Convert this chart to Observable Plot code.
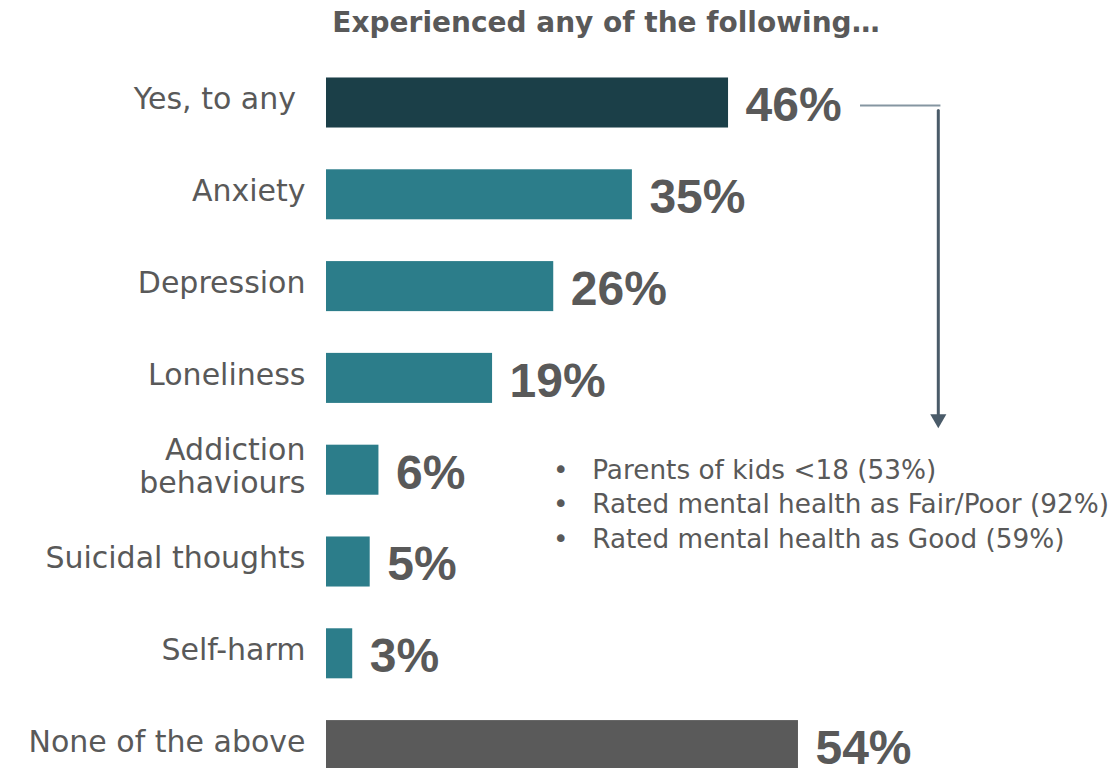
<!DOCTYPE html>
<html>
<head>
<meta charset="utf-8">
<script src="https://cdn.jsdelivr.net/npm/d3@7"></script>
<script src="https://cdn.jsdelivr.net/npm/@observablehq/plot@0.6"></script>
<style>
  html, body { margin: 0; padding: 0; background: #fff; }
  body { width: 1119px; height: 768px; overflow: hidden; position: relative; font-family: "DejaVu Sans", sans-serif; }
  #chart { position: absolute; left: 0; top: 0; }
  #title { position: absolute; left: 0; top: 9px; width: 1212px; text-align: center; font-weight: bold; font-size: 28px; line-height: 28px; color: #595959; white-space: nowrap; }
</style>
</head>
<body>
<div id="chart"></div>
<div id="title">Experienced any of the following…</div>
<script>
// ---- data ----
const categories = ["Yes, to any", "Anxiety", "Depression", "Loneliness", "Addiction\nbehaviours", "Suicidal thoughts", "Self-harm", "None of the above"];
const values = [46, 35, 26, 19, 6, 5, 3, 54];
const barColors = ["#1b3f48", "#2c7d8a", "#2c7d8a", "#2c7d8a", "#2c7d8a", "#2c7d8a", "#2c7d8a", "#5a5a5a"];
const noteLines = ["Parents of kids <18 (53%)", "Rated mental health as Fair/Poor (92%)", "Rated mental health as Good (59%)"];
// annotation: bracket from the "Yes, to any" bar down toward the notes
const connector = [{x1: 61.1, x2: 70.3, x: 70, from: "Yes, to any", to: "Addiction\nbehaviours"}];

const data = categories.map((c, i) => ({category: c, value: values[i], color: barColors[i]}));

const grey = "#595959";

const chart = Plot.plot({
  width: 1119,
  height: 768,
  marginLeft: 326,
  marginRight: 6.4,
  marginTop: 56.6,
  marginBottom: -23,
  style: {fontFamily: "DejaVu Sans", background: "white", color: grey},
  x: {domain: [0, 90], axis: null},
  y: {domain: categories, paddingInner: 0.455, paddingOuter: 0.2275, round: false, label: null},
  color: {type: "identity"},
  marks: [
    Plot.axisY({
      tickSize: 0,
      tickPadding: 21,
      fontSize: 30,
      lineHeight: 1.08,
      fill: grey,
      dy: -4,
      label: null,
      tickFormat: d => d === "Yes, to any" ? d + " " : d
    }),
    Plot.barX(data, {x: "value", y: "category", fill: "color"}),
    Plot.text(data, {
      x: "value", y: "category", text: d => `${d.value}%`,
      textAnchor: "start", dx: 17, dy: 3,
      fontSize: 48, fontWeight: "bold", fontFamily: "Liberation Sans", fill: grey
    }),
    // connector line and arrow
    Plot.ruleY(connector, {y: "from", x1: "x1", x2: "x2", dy: 2.5, stroke: "#8596a1", strokeWidth: 2}),
    Plot.arrow(connector, {
      x1: "x", x2: "x", y1: "from", y2: "to",
      insetStart: 7.5, insetEnd: 54, headLength: 0,
      stroke: "#4a5b69", strokeWidth: 3
    }),
    Plot.dot(connector, {x: "x", y: "to", symbol: "triangle", rotate: 180, r: 6, fill: "#4a5b69", dy: -51.3}),
    // notes
    Plot.text([noteLines.map(() => "•").join("\n")], {
      x: 26.8, y: () => categories[4], text: d => d,
      textAnchor: "middle", dy: 32, lineHeight: 1.31, fontSize: 26.3, fill: grey
    }),
    Plot.text([noteLines.join("\n")], {
      x: 30.4, y: () => categories[4], text: d => d,
      textAnchor: "start", dy: 32, lineHeight: 1.31, fontSize: 26.3, fill: grey
    })
  ]
});
document.getElementById("chart").appendChild(chart);
</script>
</body>
</html>
